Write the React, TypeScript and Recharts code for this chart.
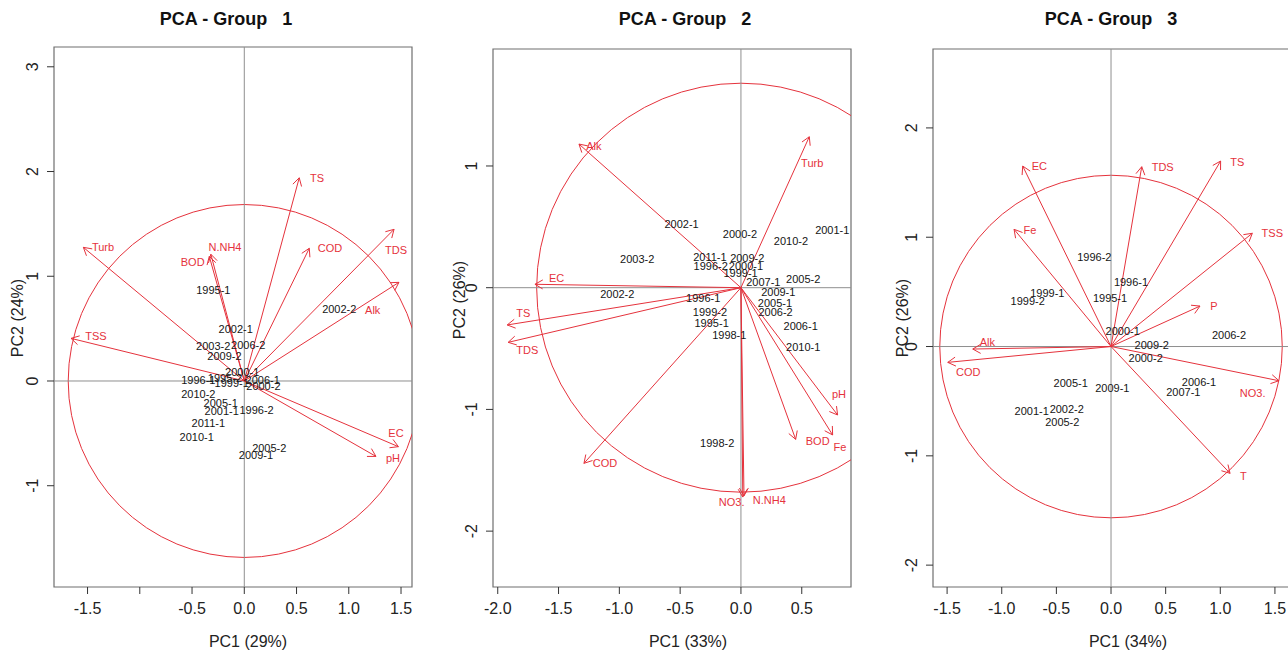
import { ScatterChart, Scatter, XAxis, YAxis, ReferenceLine, ReferenceArea } from "recharts"

const RED = "#e5323c"
const FONT = '"Liberation Sans", Arial, Helvetica, sans-serif'
const BOX = "#6f6f6f"
const ZERO = "#8f8f8f"

// ---- Group 1 ----
const g1Vars = ["TS", "Turb", "N.NH4", "BOD", "COD", "TDS", "Alk", "TSS", "EC", "pH"]
const g1VarPC1 = [0.526, -1.54, -0.32, -0.335, 0.622, 1.433, 1.48, -1.658, 1.475, 1.26]
const g1VarPC2 = [1.94, 1.276, 1.21, 1.19, 1.267, 1.448, 0.942, 0.407, -0.627, -0.72]
const g1LabPC1 = [0.696, -1.352, -0.185, -0.494, 0.82, 1.452, 1.229, -1.419, 1.452, 1.423]
const g1LabPC2 = [1.938, 1.279, 1.282, 1.136, 1.27, 1.251, 0.678, 0.43, -0.496, -0.735]
const g1Obs = [
  "1995-1", "2002-2", "2002-1", "2003-2", "2006-2", "2009-2", "2000-1", "1996-1", "1995-2", "1999-1",
  "2006-1", "2000-2", "2010-2", "2005-1", "2001-1", "1996-2", "2011-1", "2010-1", "2005-2", "2009-1",
]
const g1ObsPC1 = [-0.296, 0.909, -0.082, -0.297, 0.038, -0.19, -0.02, -0.44, -0.185, -0.12, 0.176, 0.183, -0.44, -0.226, -0.216, 0.118, -0.344, -0.455, 0.239, 0.112]
const g1ObsPC2 = [0.869, 0.684, 0.496, 0.337, 0.344, 0.239, 0.089, 0.01, 0.03, -0.02, 0.01, -0.048, -0.127, -0.213, -0.283, -0.277, -0.404, -0.531, -0.643, -0.706]

// ---- Group 2 ----
const g2Vars = ["Alk", "Turb", "EC", "TS", "TDS", "COD", "NO3.", "N.NH4", "BOD", "Fe", "pH"]
const g2VarPC1 = [-1.332, 0.562, -1.694, -1.922, -1.914, -1.291, 0.015, 0.025, 0.45, 0.754, 0.795]
const g2VarPC2 = [1.18, 1.24, 0.028, -0.306, -0.449, -1.443, -1.72, -1.71, -1.246, -1.21, -1.046]
const g2LabPC1 = [-1.209, 0.586, -1.516, -1.79, -1.757, -1.118, -0.076, 0.233, 0.631, 0.814, 0.806]
const g2LabPC2 = [1.164, 1.027, 0.082, -0.21, -0.512, -1.443, -1.758, -1.744, -1.257, -1.306, -0.873]
const g2Obs = [
  "2002-1", "2000-2", "2010-2", "2001-1", "2003-2", "2011-1", "2009-2", "1996-2", "2000-1", "1999-1",
  "2007-1", "2005-2", "2002-2", "2009-1", "1996-1", "2005-1", "2006-2", "1999-2", "1995-1", "1998-1",
  "2006-1", "2010-1", "1998-2",
]
const g2ObsPC1 = [-0.488, -0.008, 0.411, 0.751, -0.853, -0.255, 0.052, -0.249, 0.041, -0.003, 0.184, 0.512, -1.017, 0.307, -0.31, 0.28, 0.285, -0.255, -0.241, -0.096, 0.491, 0.512, -0.195]
const g2ObsPC2 = [0.523, 0.441, 0.386, 0.474, 0.233, 0.255, 0.241, 0.181, 0.178, 0.118, 0.049, 0.071, -0.049, -0.038, -0.082, -0.128, -0.197, -0.2, -0.293, -0.389, -0.315, -0.49, -1.274]

// ---- Group 3 ----
const g3Vars = ["EC", "TDS", "TS", "Fe", "TSS", "P", "Alk", "COD", "NO3.", "T"]
const g3VarPC1 = [-0.808, 0.281, 1.003, -0.887, 1.293, 0.814, -1.265, -1.494, 1.537, 1.089]
const g3VarPC2 = [1.651, 1.645, 1.697, 1.072, 1.036, 0.37, -0.023, -0.145, -0.313, -1.16]
const g3LabPC1 = [-0.656, 0.473, 1.156, -0.741, 1.476, 0.942, -1.132, -1.306, 1.296, 1.21]
const g3LabPC2 = [1.651, 1.645, 1.691, 1.066, 1.036, 0.371, 0.044, -0.231, -0.423, -1.185]
const g3Obs = [
  "1996-2", "1996-1", "1999-1", "1999-2", "1995-1", "2000-1", "2006-2", "2009-2", "2000-2", "2005-1",
  "2009-1", "2006-1", "2007-1", "2001-1", "2002-2", "2005-2",
]
const g3ObsPC1 = [-0.153, 0.183, -0.583, -0.762, -0.009, 0.107, 1.08, 0.372, 0.317, -0.369, 0.012, 0.805, 0.662, -0.726, -0.405, -0.446]
const g3ObsPC2 = [0.822, 0.593, 0.487, 0.419, 0.447, 0.142, 0.105, 0.014, -0.102, -0.331, -0.383, -0.322, -0.413, -0.587, -0.575, -0.694]

const panels = [
  {
    title: "PCA - Group   1", titleX: 226, xLabel: "PC1 (29%)", xLabelX: 248, yLabel: "PC2 (24%)", yLabelX: 18, yLabelY: 318,
    left: 0, width: 440, yAxisW: 54, right: 28, top: 47,
    xDomain: [-1.821, 1.605], yDomain: [-1.967, 3.189], radius: 1.685,
    xTicks: [-1.5, -1, -0.5, 0, 0.5, 1, 1.5], xHidden: [-1], yTicks: [-1, 0, 1, 2, 3],
    vars: g1Vars, varX: g1VarPC1, varY: g1VarPC2, labX: g1LabPC1, labY: g1LabPC2,
    obs: g1Obs, obsX: g1ObsPC1, obsY: g1ObsPC2,
  },
  {
    title: "PCA - Group   2", titleX: 685, xLabel: "PC1 (33%)", xLabelX: 688, yLabel: "PC2 (26%)", yLabelX: 460, yLabelY: 300,
    left: 440, width: 440, yAxisW: 53, right: 29, top: 49,
    xDomain: [-2.039, 0.905], yDomain: [-2.459, 1.961], radius: 1.68,
    xTicks: [-2, -1.5, -1, -0.5, 0, 0.5], xHidden: [], yTicks: [-2, -1, 0, 1],
    vars: g2Vars, varX: g2VarPC1, varY: g2VarPC2, labX: g2LabPC1, labY: g2LabPC2,
    obs: g2Obs, obsX: g2ObsPC1, obsY: g2ObsPC2,
  },
  {
    title: "PCA - Group   3", titleX: 1111, xLabel: "PC1 (34%)", xLabelX: 1128, yLabel: "PC2 (26%)", yLabelX: 903, yLabelY: 318,
    left: 880, width: 411, yAxisW: 53, right: 0, top: 49,
    xDomain: [-1.629, 1.647], yDomain: [-2.2, 2.722], radius: 1.567,
    xTicks: [-1.5, -1, -0.5, 0, 0.5, 1, 1.5], xHidden: [], yTicks: [-2, -1, 0, 1, 2],
    vars: g3Vars, varX: g3VarPC1, varY: g3VarPC2, labX: g3LabPC1, labY: g3LabPC2,
    obs: g3Obs, obsX: g3ObsPC1, obsY: g3ObsPC2,
  },
]

const Arrow = (props: any) => {
  const { x1, y1, x2, y2 } = props
  const ang = Math.atan2(y2 - y1, x2 - x1)
  const len = 9
  const spread = Math.PI / 6
  const ax = x2 - len * Math.cos(ang - spread)
  const ay = y2 - len * Math.sin(ang - spread)
  const bx = x2 - len * Math.cos(ang + spread)
  const by = y2 - len * Math.sin(ang + spread)
  return (
    <g>
      <line x1={x1} y1={y1} x2={x2} y2={y2} stroke={RED} strokeWidth={1} />
      <polyline points={`${ax},${ay} ${x2},${y2} ${bx},${by}`} fill="none" stroke={RED} strokeWidth={1} />
    </g>
  )
}

const Circle = (props: any) => {
  const { x, y, width, height, clipPath } = props
  return (
    <ellipse
      cx={x + width / 2}
      cy={y + height / 2}
      rx={Math.abs(width / 2)}
      ry={Math.abs(height / 2)}
      fill="none"
      stroke={RED}
      strokeWidth={1}
      clipPath={clipPath}
    />
  )
}

const ObsText = (props: any) => (
  <text x={props.cx} y={props.cy} textAnchor="middle" dominantBaseline="central" fontSize={11} fill="#151515" fontFamily={FONT}>
    {props.payload.name}
  </text>
)

const VarText = (props: any) => (
  <text x={props.cx} y={props.cy} textAnchor="middle" dominantBaseline="central" fontSize={11} fill={RED} fontFamily={FONT}>
    {props.payload.name}
  </text>
)

function Panel({ p }: { p: (typeof panels)[number] }) {
  const obs = p.obs.map((name, i) => ({ x: p.obsX[i], y: p.obsY[i], name }))
  const labs = p.vars.map((name, i) => ({ x: p.labX[i], y: p.labY[i], name }))
  const r = p.radius
  return (
    <div style={{ position: "absolute", left: p.left, top: 0, width: p.width, height: 653 }}>
      <ScatterChart width={p.width} height={653} margin={{ top: p.top, right: p.right, bottom: 0, left: 0 }}>
        <XAxis
          type="number"
          dataKey="x"
          domain={p.xDomain}
          ticks={p.xTicks}
          interval={0}
          allowDataOverflow
          height={66}
          tickSize={7}
          axisLine={false}
          tickLine={{ stroke: "#333" }}
          tick={(t: any) =>
            p.xHidden.includes(t.payload.value) ? (
              <g />
            ) : (
              <text x={t.x} y={t.y + 12} textAnchor="middle" dominantBaseline="central" fontSize={16} fill="#222" fontFamily={FONT}>
                {Number(t.payload.value).toFixed(1)}
              </text>
            )
          }
        />
        <YAxis
          type="number"
          dataKey="y"
          domain={p.yDomain}
          ticks={p.yTicks}
          interval={0}
          allowDataOverflow
          width={p.yAxisW}
          tickSize={7}
          axisLine={false}
          tickLine={{ stroke: "#333" }}
          tick={(t: any) => (
            <text
              x={t.x - 12}
              y={t.y}
              transform={`rotate(-90, ${t.x - 12}, ${t.y})`}
              textAnchor="middle"
              dominantBaseline="central"
              fontSize={16}
              fill="#222"
              fontFamily={FONT}
            >
              {String(t.payload.value)}
            </text>
          )}
        />
        <ReferenceArea
          x1={p.xDomain[0]}
          x2={p.xDomain[1]}
          y1={p.yDomain[0]}
          y2={p.yDomain[1]}
          fill="none"
          fillOpacity={0}
          stroke={BOX}
          strokeWidth={1.2}
          ifOverflow="visible"
        />
        <ReferenceLine x={0} stroke={ZERO} strokeWidth={1} />
        <ReferenceLine y={0} stroke={ZERO} strokeWidth={1} />
        <ReferenceArea x1={-r} x2={r} y1={-r} y2={r} ifOverflow="hidden" shape={Circle} />
        <Scatter data={obs} shape={ObsText} isAnimationActive={false} />
        {p.vars.map((v, i) => (
          <ReferenceLine
            key={v + i}
            segment={[
              { x: 0, y: 0 },
              { x: p.varX[i], y: p.varY[i] },
            ]}
            ifOverflow="visible"
            shape={Arrow}
          />
        ))}
        <Scatter data={labs} shape={VarText} isAnimationActive={false} />
      </ScatterChart>
    </div>
  )
}

export default function App() {
  return (
    <div
      style={{
        position: "fixed",
        left: 0,
        top: 0,
        width: 1288,
        height: 653,
        overflow: "hidden",
        background: "#fff",
        fontFamily: FONT,
      }}
    >
      {panels.map((p) => (
        <Panel key={p.title} p={p} />
      ))}
      {panels.map((p) => (
        <div key={p.title + "t"}>
          <div
            style={{
              position: "absolute",
              left: p.titleX - 150,
              width: 300,
              top: 10,
              textAlign: "center",
              fontSize: 18,
              lineHeight: "18px",
              fontWeight: "bold",
              color: "#111",
              whiteSpace: "pre",
            }}
          >
            {p.title}
          </div>
          <div
            style={{
              position: "absolute",
              left: p.xLabelX - 100,
              width: 200,
              top: 634,
              textAlign: "center",
              fontSize: 16,
              lineHeight: "16px",
              color: "#222",
            }}
          >
            {p.xLabel}
          </div>
          <div
            style={{
              position: "absolute",
              left: p.yLabelX - 100,
              top: p.yLabelY - 8,
              width: 200,
              textAlign: "center",
              fontSize: 16,
              lineHeight: "16px",
              color: "#222",
              transform: "rotate(-90deg)",
            }}
          >
            {p.yLabel}
          </div>
        </div>
      ))}
    </div>
  )
}
